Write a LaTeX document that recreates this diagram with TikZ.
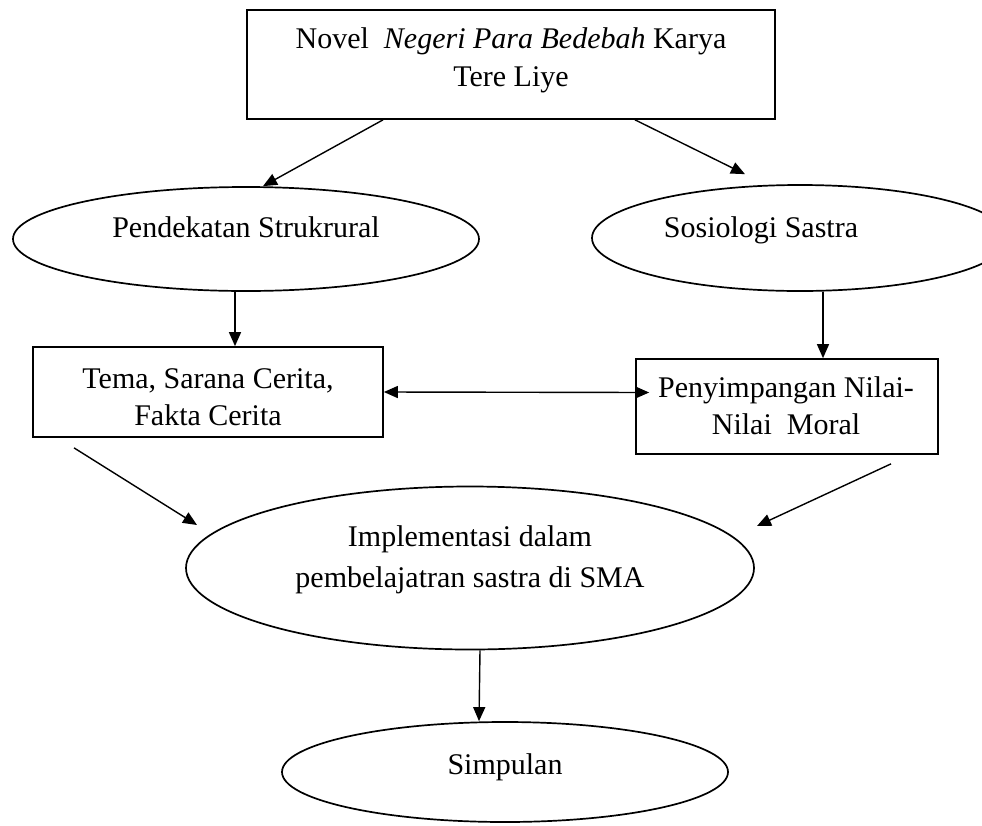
\documentclass[tikz,border=0pt]{standalone}
\usepackage{fontspec}
\setmainfont{Liberation Serif}
\usetikzlibrary{shapes.geometric,arrows.meta}
\begin{document}
\begin{tikzpicture}[x=1pt,y=-1pt,
  shp/.style={draw, line width=1.7pt, inner sep=0pt},
  boxn/.style={shp, rectangle},
  ell/.style={shp, ellipse},
  lbl/.style={anchor=base, align=center, inner sep=0pt, font=\fontsize{30}{#1}\selectfont},
  lbl/.default=37,
  arr/.style={line width=1.4pt, -{Triangle[length=14pt,width=12pt]}},
  darr/.style={line width=1.4pt, {Triangle[length=14pt,width=12pt]}-{Triangle[length=14pt,width=12pt]}}]
\useasboundingbox (0,0) rectangle (982,825);
% shapes
\node[boxn, minimum width=528pt, minimum height=109pt] (top) at (511,64.5) {};
\node[ell, minimum width=466pt, minimum height=104pt] (e1) at (246,239) {};
\node[ell, minimum width=416pt, minimum height=106pt] (e2) at (800,238) {};
\node[boxn, minimum width=350pt, minimum height=90pt] (tema) at (208,392) {};
\node[boxn, minimum width=302pt, minimum height=95pt] (pen) at (787,406.5) {};
\node[ell, minimum width=568pt, minimum height=163pt] (impl) at (470,568) {};
\node[ell, minimum width=446pt, minimum height=100pt] (simp) at (505,772) {};
% texts (base anchor = baseline of the last line)
\node[lbl=38] (topT) at (511,86) {Novel\ \ \textit{Negeri Para Bedebah} Karya\\Tere Liye};
\node[lbl] (e1T) at (246,237) {Pendekatan Strukrural};
\node[lbl] (e2T) at (761,237) {Sosiologi Sastra};
\node[lbl] (temaT) at (208,425) {Tema, Sarana Cerita,\\Fakta Cerita};
\node[lbl] (penT) at (786,434) {Penyimpangan Nilai-\\Nilai\ \ Moral};
\node[lbl=41] (implT) at (470,587) {Implementasi dalam\\pembelajatran sastra di SMA};
\node[lbl] (simpT) at (505,774) {Simpulan};
% connectors
\draw[arr] ([xshift=-128pt]top.south) -- ([xshift=17pt]e1.north);
\draw[arr] ([xshift=124pt]top.south) -- ([xshift=-55pt,yshift=10pt]e2.north);
\draw[arr] ([xshift=-11pt]e1.south) -- ([xshift=27pt]tema.north);
\draw[arr] ([xshift=23pt]e2.south) -- ([xshift=36pt]pen.north);
\draw[darr] (tema.east) -- ([xshift=14pt,yshift=14pt]pen.west);
\draw[arr] ([xshift=-134pt,yshift=-10pt]tema.south) -- ([xshift=-273pt,yshift=43pt]impl.center);
\draw[arr] ([xshift=104pt,yshift=-9pt]pen.south) -- ([xshift=287pt,yshift=42pt]impl.center);
\draw[arr] ([xshift=10pt]impl.south) -- ([xshift=-26pt]simp.north);
\end{tikzpicture}
\end{document}
